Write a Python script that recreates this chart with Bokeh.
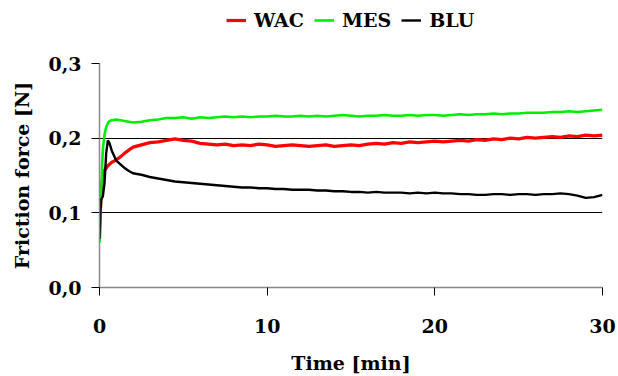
from bokeh.plotting import figure
from bokeh.layouts import column
from bokeh.models import Legend, LegendItem, FixedTicker, Range1d
from bokeh.embed import file_html
from bokeh.resources import INLINE

# ---- data ----
time_min = [0, 0.05, 0.1, 0.15, 0.2, 0.3, 0.4, 0.5, 0.6, 0.75, 1.0, 1.25, 1.5, 1.75, 2.0,
            2.5, 3.0, 3.5, 4.0, 4.5, 5.0, 5.5, 6.0, 6.5, 7.0, 7.5, 8.0, 8.5, 9.0, 9.5,
            10.0, 10.5, 11.0, 11.5, 12.0, 12.5, 13.0, 13.5, 14.0, 14.5, 15.0, 15.5,
            16.0, 16.5, 17.0, 17.5, 18.0, 18.5, 19.0, 19.5, 20.0, 20.5, 21.0, 21.5,
            22.0, 22.5, 23.0, 23.5, 24.0, 24.5, 25.0, 25.5, 26.0, 26.5, 27.0, 27.5,
            28.0, 28.5, 29.0, 29.5, 30.0]

wac = [0.065, 0.100, 0.125, 0.140, 0.150, 0.157, 0.160, 0.163, 0.165, 0.168, 0.171, 0.175,
       0.180, 0.184, 0.188,
       0.191, 0.194, 0.195, 0.197, 0.199, 0.197, 0.196, 0.193, 0.192, 0.191, 0.192, 0.190,
       0.191, 0.190, 0.192, 0.191, 0.189, 0.190, 0.191, 0.190, 0.189, 0.190, 0.191, 0.189,
       0.190, 0.191, 0.190, 0.192, 0.193, 0.192, 0.194, 0.193, 0.195, 0.194, 0.195, 0.196,
       0.195, 0.196, 0.197, 0.196, 0.198, 0.197, 0.199, 0.198, 0.200, 0.199, 0.201, 0.200,
       0.201, 0.202, 0.201, 0.203, 0.202, 0.204, 0.203, 0.204]

mes = [0.060, 0.090, 0.125, 0.160, 0.185, 0.205, 0.215, 0.220, 0.223, 0.224, 0.225, 0.224,
       0.223, 0.222, 0.221,
       0.222, 0.224, 0.225, 0.227, 0.227, 0.228, 0.226, 0.228, 0.227, 0.228, 0.229, 0.228,
       0.229, 0.228, 0.229, 0.229, 0.230, 0.229, 0.229, 0.230, 0.229, 0.230, 0.229, 0.230,
       0.231, 0.230, 0.229, 0.230, 0.230, 0.231, 0.230, 0.230, 0.231, 0.230, 0.231, 0.231,
       0.230, 0.231, 0.232, 0.231, 0.232, 0.232, 0.233, 0.232, 0.233, 0.233, 0.234, 0.234,
       0.234, 0.235, 0.235, 0.236, 0.235, 0.236, 0.237, 0.238]

blu = [0.065, 0.100, 0.118, 0.120, 0.122, 0.140, 0.180, 0.197, 0.193, 0.182, 0.170, 0.165,
       0.160, 0.156, 0.153,
       0.151, 0.148, 0.146, 0.144, 0.142, 0.141, 0.140, 0.139, 0.138, 0.137, 0.136, 0.135,
       0.134, 0.134, 0.133, 0.133, 0.132, 0.132, 0.131, 0.131, 0.131, 0.130, 0.130, 0.129,
       0.129, 0.128, 0.128, 0.127, 0.128, 0.127, 0.127, 0.127, 0.126, 0.127, 0.126, 0.127,
       0.126, 0.126, 0.125, 0.125, 0.124, 0.124, 0.125, 0.125, 0.124, 0.125, 0.125, 0.124,
       0.125, 0.125, 0.126, 0.125, 0.123, 0.120, 0.121, 0.124]

series_names = ["WAC", "MES", "BLU"]
series_colors = ["#ff0000", "#00ee00", "#000000"]
series_widths = [3.2, 2.6, 2.4]
series_values = [wac, mes, blu]

x_ticks = [0, 10, 20, 30]
y_ticks = [0.0, 0.1, 0.2, 0.3]
y_tick_labels = ["0,0", "0,1", "0,2", "0,3"]

FONT = "DejaVu Serif"

# ---- legend strip (top): same series drawn far outside its visible range ----
top = figure(width=618, height=53, output_backend="svg", toolbar_location=None,
             x_axis_type=None, y_axis_type=None,
             min_border=0, min_border_left=0, min_border_right=0,
             min_border_top=0, min_border_bottom=0,
             x_range=Range1d(100, 101), y_range=Range1d(100, 101))
top.outline_line_color = None
top.xgrid.visible = False
top.ygrid.visible = False
top.background_fill_alpha = 0
top.border_fill_alpha = 0
legend_renderers = [top.line(time_min, v, line_color=c, line_width=w)
                    for v, c, w in zip(series_values, series_colors, series_widths)]
legend = Legend(items=[LegendItem(label=n, renderers=[r])
                       for n, r in zip(series_names, legend_renderers)],
                orientation="horizontal", location=(127, 22), padding=0, margin=0,
                spacing=10, label_standoff=8, glyph_width=20, glyph_height=20,
                label_height=20, border_line_color=None, background_fill_alpha=0,
                label_text_font=FONT, label_text_font_style="bold",
                label_text_font_size="19px", label_text_color="#000000")
top.add_layout(legend)

# ---- main chart ----
p = figure(width=618, height=323, output_backend="svg", toolbar_location=None,
           x_range=Range1d(0, 30), y_range=Range1d(0, 0.3),
           min_border_left=99, min_border_right=16, min_border_top=10,
           min_border_bottom=87)
p.outline_line_color = None
p.background_fill_color = "white"
p.border_fill_color = "white"

p.xgrid.visible = False
p.ygrid.ticker = FixedTicker(ticks=[0.1, 0.2, 0.3])
p.ygrid.grid_line_color = "#000000"
p.ygrid.grid_line_width = 1

for vals, c, w in zip(series_values, series_colors, series_widths):
    p.line(time_min, vals, line_color=c, line_width=w)

for ax in (p.xaxis[0], p.yaxis[0]):
    ax.axis_line_color = "#888888"
    ax.axis_line_width = 1.5
    ax.major_tick_line_color = "#000000"
    ax.major_tick_in = 0
    ax.major_tick_out = 8
    ax.minor_tick_line_color = None
    ax.major_label_text_font = FONT
    ax.major_label_text_font_style = "bold"
    ax.major_label_text_font_size = "19px"
    ax.major_label_text_color = "#000000"
    ax.axis_label_text_font = FONT
    ax.axis_label_text_font_style = "bold"
    ax.axis_label_text_font_size = "19px"
    ax.axis_label_text_color = "#000000"

p.xaxis.ticker = FixedTicker(ticks=x_ticks)
p.yaxis.ticker = FixedTicker(ticks=y_ticks)
p.yaxis.major_label_overrides = {t: s for t, s in zip(y_ticks, y_tick_labels)}
p.xaxis.axis_label = "Time [min]"
p.yaxis.axis_label = "Friction force [N]"
p.xaxis.major_label_standoff = 23
p.xaxis.axis_label_standoff = 16
p.yaxis.major_label_standoff = 10
p.yaxis.axis_label_standoff = 12

layout = column(top, p, spacing=0)
open("out.html", "w").write(file_html(layout, INLINE))
